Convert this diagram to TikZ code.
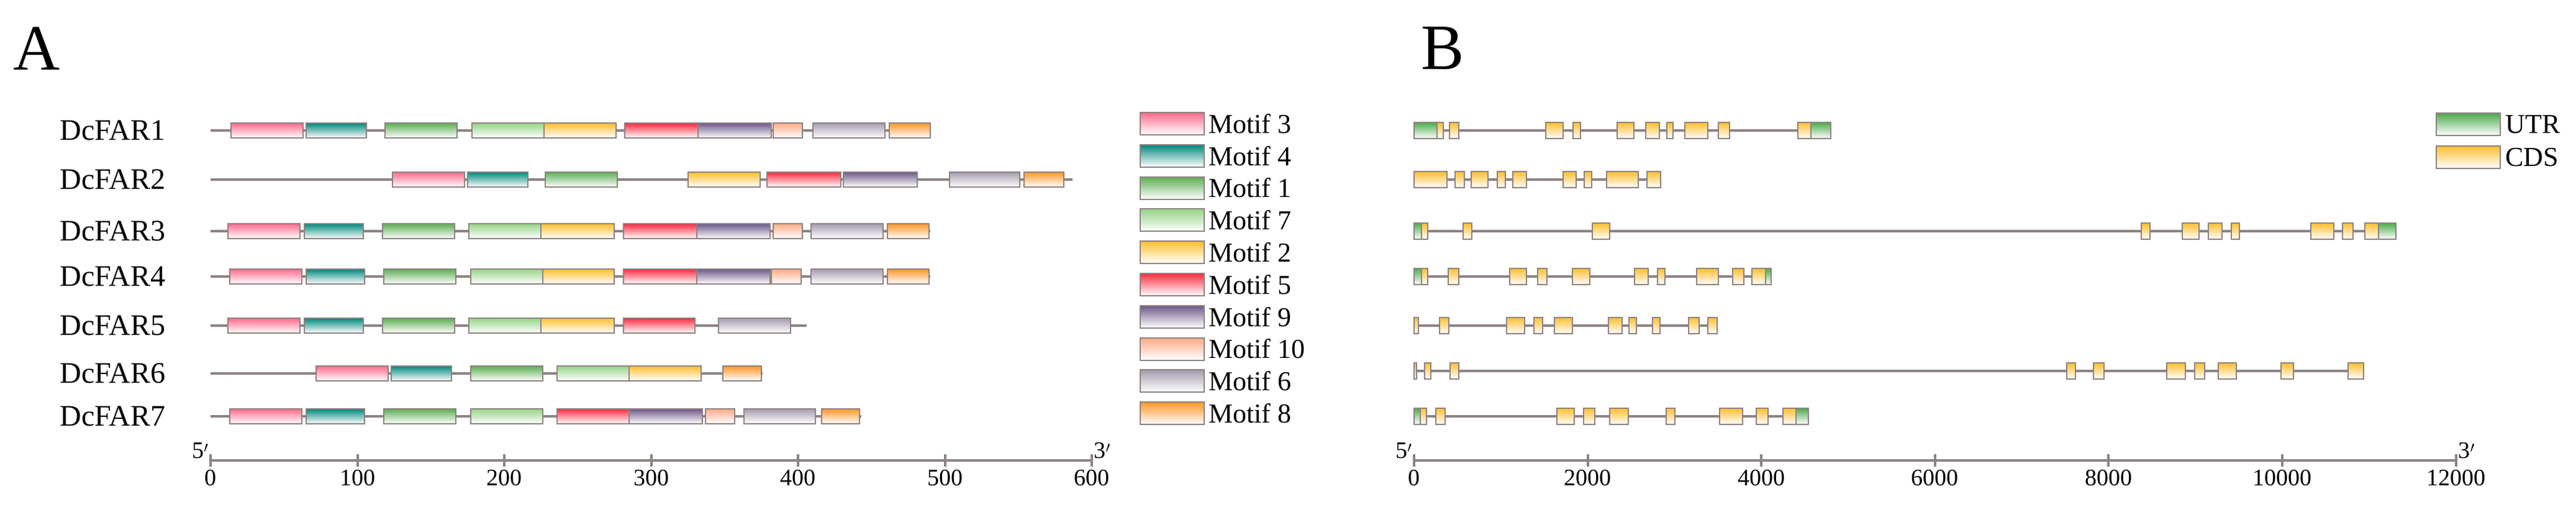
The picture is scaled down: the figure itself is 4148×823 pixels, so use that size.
\documentclass[tikz,border=0pt]{standalone}
\usepackage{fontspec}
\setmainfont{Liberation Serif}
\definecolor{bord}{HTML}{8E8282}
\definecolor{c3}{HTML}{FF6A8A}
\definecolor{c4}{HTML}{00887C}
\definecolor{c1}{HTML}{5CAE52}
\definecolor{c7}{HTML}{96D486}
\definecolor{c2}{HTML}{FFBE2E}
\definecolor{c5}{HTML}{FF2A40}
\definecolor{c9}{HTML}{6C5888}
\definecolor{c10}{HTML}{FFAA86}
\definecolor{c6}{HTML}{A59CAE}
\definecolor{c8}{HTML}{FF9628}
\definecolor{cU}{HTML}{4CAA4C}
\definecolor{cC}{HTML}{FFBE2E}
\tikzset{
  bb/.style={draw=bord, line width=4pt},
  box/.style={draw=bord, line width=2pt, bottom color=white},
  lab/.style={font=\fontsize{48}{50}\selectfont, anchor=east},
  tck/.style={font=\fontsize{38}{40}\selectfont, anchor=north},
  leg/.style={font=\fontsize{44}{46}\selectfont, anchor=west},
  pan/.style={font=\fontsize{104}{110}\selectfont, anchor=north west}
}
% protein row: y, length, list of start/end/motif
\newcommand\protrow[4]{%
  \node[lab] (#1) at (270,#2) {#1};
  \draw[bb] (339,#2) -- ({339+2.365*#3},#2);
  \foreach \s/\e/\m in {#4}
    \path[box, top color=c\m, bottom color=white] ({339+2.365*\s},{#2-12}) rectangle ({339+2.365*\e},{#2+12});
}
% gene row: y, length, list of start/end/type
\newcommand\generow[3]{%
  \draw[bb] (2277,#1) -- ({2277+0.1398*#2},#1);
  \foreach \s/\e/\t in {#3}
    \path[box, top color=c\t, bottom color=white] ({2277+0.1398*\s},{#1-13}) rectangle ({2277+0.1398*\e},{#1+13});
}
\begin{document}
\begin{tikzpicture}[x=1pt,y=-1pt]
\useasboundingbox (0,0) rectangle (4148,823);
\node[pan] (A) at (18,40) {A};
\node[pan] (B) at (2285,40) {B};

% panel A
\protrow{DcFAR1}{210}{490}{14/63/3,65/106/4,119/168/1,178/227/7,227/276/2,282/332/5,332/382/9,383/403/10,410/459/6,462/490/8}
\protrow{DcFAR2}{289}{587}{124/173/3,175/216/4,228/277/1,325/374/2,379/429/5,431/481/9,503/551/6,554/581/8}
\protrow{DcFAR3}{372}{490}{12/61/3,64/104/4,117/166/1,176/225/7,225/275/2,281/331/5,331/381/9,383/403/10,409/458/6,461/489/8}
\protrow{DcFAR4}{445}{490}{13/62/3,65/105/4,118/167/1,177/226/7,226/275/2,281/331/5,331/381/9,382/402/10,409/458/6,461/489/8}
\protrow{DcFAR5}{524}{406}{12/61/3,64/104/4,117/166/1,176/225/7,225/275/2,281/330/5,346/395/6}
\protrow{DcFAR6}{601}{376}{72/121/3,123/164/4,177/226/1,236/285/7,285/334/2,349/375/8}
\protrow{DcFAR7}{670}{443}{13/62/3,65/105/4,118/167/1,177/226/7,236/285/5,285/335/9,337/357/10,363/412/6,416/442/8}

\draw[bb] (339,741) coordinate (a0) -- (1758,741) coordinate (a1);
\foreach \v in {0,100,...,600}
  \draw[bb] ({339+2.365*\v},731) -- ({339+2.365*\v},751) node[tck] {\v};
\node[font=\fontsize{38}{40}\selectfont, anchor=south east] (p5) at (a0) {5$'$};
\node[font=\fontsize{38}{40}\selectfont, anchor=south west] (p3) at (a1) {3$'$};

\foreach \i/\m [count=\k from 0] in {3/3,4/4,1/1,7/7,2/2,5/5,9/9,10/10,6/6,8/8}
  \path[box, top color=c\m, bottom color=white] (1836,{181+51.8*\k}) rectangle (1939,{217+51.8*\k})
    node[leg] (m\m) at (1942,{199+51.8*\k}) {Motif \i};

% panel B
\generow{210}{4796}{0/266/U,266/337/C,409/515/C,1519/1714/C,1830/1919/C,2336/2531/C,2665/2824/C,2913/2984/C,3118/3384/C,3508/3633/C,4423/4574/C,4574/4796/U}
\generow{289}{2842}{0/382/C,471/577/C,657/853/C,959/1048/C,1137/1297/C,1714/1865/C,1963/2043/C,2220/2585/C,2682/2842/C}
\generow{372}{11307}{0/89/U,89/160/C,568/666/C,2052/2256/C,8376/8473/C,8846/9042/C,9148/9308/C,9415/9504/C,10330/10596/C,10694/10818/C,10951/11111/C,11111/11307/U}
\generow{445}{4112}{0/89/U,89/160/C,391/515/C,1101/1297/C,1421/1528/C,1821/2025/C,2540/2700/C,2807/2887/C,3251/3508/C,3668/3801/C,3890/4050/C,4050/4112/U}
\generow{524}{3491}{0/53/C,293/400/C,1066/1270/C,1377/1483/C,1617/1821/C,2238/2398/C,2478/2558/C,2745/2833/C,3162/3286/C,3384/3491/C}
\generow{597}{10934}{0/30/C,124/195/C,417/515/C,7514/7621/C,7825/7949/C,8669/8882/C,8989/9104/C,9264/9468/C,9983/10125/C,10756/10934/C}
\generow{670}{4539}{0/71/U,71/142/C,249/355/C,1643/1847/C,1954/2078/C,2256/2469/C,2904/3002/C,3517/3784/C,3944/4077/C,4246/4397/C,4397/4539/U}

\draw[bb] (2277,741) coordinate (b0) -- (3955,741) coordinate (b1);
\foreach \v in {0,2000,...,12000}
  \draw[bb] ({2277+0.1398*\v},731) -- ({2277+0.1398*\v},751) node[tck] {\v};
\node[font=\fontsize{38}{40}\selectfont, anchor=south east] (q5) at (b0) {5$'$};
\node[font=\fontsize{38}{40}\selectfont, anchor=south west] (q3) at (b1) {3$'$};

\path[box, top color=cU, bottom color=white] (3923,182) rectangle (4026,218)
  node[leg] (utr) at (4030,200) {UTR};
\path[box, top color=cC, bottom color=white] (3923,235) rectangle (4026,271)
  node[leg] (cds) at (4030,253) {CDS};
\end{tikzpicture}
\end{document}
